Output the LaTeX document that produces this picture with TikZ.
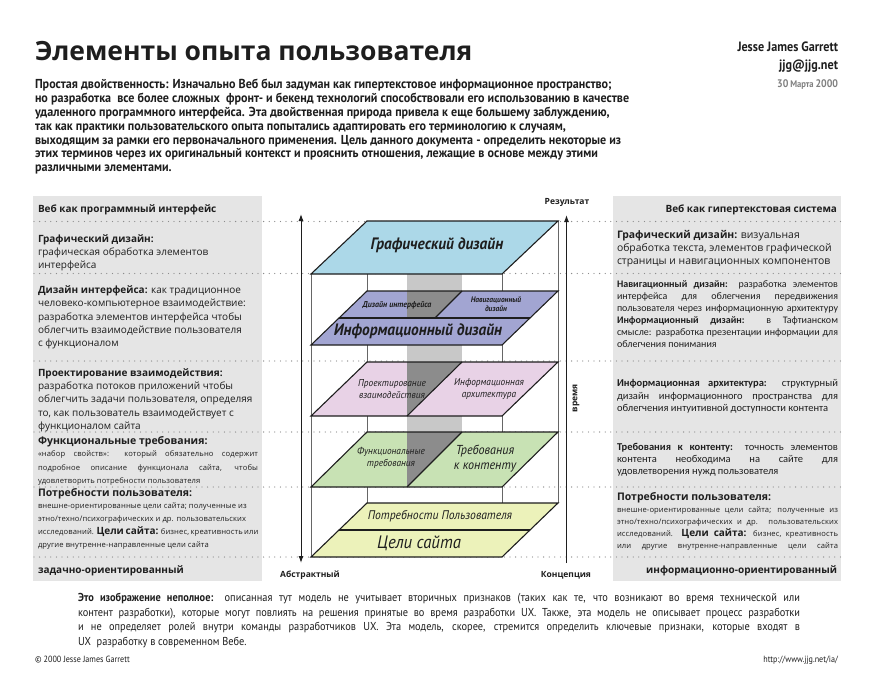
\documentclass[tikz,border=0pt]{standalone}
\usepackage{fontspec}
\setmainfont{Open Sans}
\newfontfamily\osls[LetterSpace=1.5]{Open Sans}
\newfontfamily\carl{Carlito}
\newfontfamily\cond[FakeStretch=0.9]{PT Sans}
\newfontfamily\condb[FakeStretch=0.93]{PT Sans}
\newfontfamily\lay[FakeStretch=0.93]{PT Sans}
\usetikzlibrary{arrows.meta}
\definecolor{panel}{RGB}{229,229,229}
\definecolor{dotc}{RGB}{140,140,140}
\definecolor{lblue}{RGB}{172,216,232}
\definecolor{lpurple}{RGB}{162,165,210}
\definecolor{lpink}{RGB}{232,210,230}
\definecolor{lgreen}{RGB}{200,226,180}
\definecolor{lyellow}{RGB}{236,242,186}
\definecolor{bandlight}{RGB}{200,200,200}
\definecolor{banddark}{RGB}{140,140,140}
\definecolor{ink}{RGB}{30,30,30}
\newcommand\fs[1]{\fontsize{#1}{#1}\selectfont}
\newcommand\LL[1]{\hbox to\hsize{#1\hfil}}
\newcommand\JJ[1]{\hbox to\hsize{#1}}
\newcommand\blk[4]{\vtop{\hsize=#1\relax #3\baselineskip=#2\relax\lineskiplimit=-100pt\lineskip=0pt\relax #4}}
\begin{document}
\begin{tikzpicture}[x=1pt,y=-1pt,
  txt/.style={anchor=base west,inner sep=0pt,outer sep=0pt,text=ink},
  rtxt/.style={anchor=base east,inner sep=0pt,outer sep=0pt,text=ink},
  dots/.style={dotc,line width=1.3pt,line cap=round,dash pattern=on 0pt off 5.6pt},
  boxline/.style={draw=gray!80!black,line width=0.6pt},
  layerline/.style={draw=ink,line width=1.1pt,line join=miter},
  arr/.style={draw=ink,line width=1pt},
  lbl/.style={inner sep=0pt,text=ink,align=center},
  axis/.style={inner sep=0pt,text=ink,font=\fs{8.5}\bfseries}]
\useasboundingbox (0,0) rectangle (880,679);
\fill[white] (0,0) rectangle (880,679);

% ---------- header ----------
\node[txt] (title) at (35,61) {\bfseries\fs{26.5}Элементы опыта пользователя};
\node[rtxt] (author) at (838,51.5) {\cond\bfseries\fs{13.5}Jesse James Garrett};
\node[rtxt] (mail) at (838,69.5) {\cond\bfseries\fs{13.5}jjg@jjg.net};
\node[rtxt,text=gray] (date) at (838,88) {\cond\bfseries\fs{11}30\,{\fs{9.5}Марта}\,2000};
\node[txt] (intro) at (35,89) {\blk{620pt}{13.8pt}{\condb\bfseries\fs{13}}{%
\LL{Простая двойственность: Изначально Веб был задуман как гипертекстовое информационное пространство;}%
\LL{но разработка \ все более сложных \ фронт- и бекенд технологий способствовали его использованию в качестве}%
\LL{удаленного программного интерфейса. Эта двойственная природа привела к еще большему заблуждению,}%
\LL{так как практики пользовательского опыта попытались адаптировать его терминологию к случаям,}%
\LL{выходящим за рамки его первоначального применения. Цель данного документа - определить некоторые из}%
\LL{этих терминов через их оригинальный контекст и прояснить отношения, лежащие в основе между этими}%
\LL{различными элементами.}}};

% ---------- side panels ----------
\fill[panel] (33,196) rectangle (262,581);
\fill[panel] (613,196) rectangle (841,581);

% ---------- dotted guide lines ----------
\foreach \yy in {221.5,273.5,361,432,487,557}{\draw[dots] (34,\yy) -- (841,\yy);}

% ---------- left panel text ----------
\node[txt] (lhead) at (38,212) {\fs{10}\bfseries Веб как программный интерфейс};
\node[txt] (lgd) at (38,242) {\blk{220pt}{13pt}{\fs{10}}{\LL{\bfseries Графический дизайн:}\LL{графическая обработка элементов}\LL{интерфейса}}};
\node[txt] (lid) at (38,293.5) {\blk{220pt}{13.3pt}{\fs{10}}{\LL{\textbf{Дизайн интерфейса:} как традиционное}\LL{человеко-компьютерное взаимодействие:}\LL{разработка элементов интерфейса чтобы}\LL{облегчить взаимодействие пользователя}\LL{с функционалом}}};
\node[txt] (lixd) at (38,376) {\blk{220pt}{13.4pt}{\fs{10}}{\LL{\bfseries Проектирование взаимодействия:}\LL{разработка потоков приложений чтобы}\LL{облегчить задачи пользователя, определяя}\LL{то, как пользователь взаимодействует с}\LL{функционалом сайта}}};
\node[txt] (lfs) at (38,444) {\fs{10.5}\bfseries Функциональные требования:};
\node[txt] (lfsb) at (38,456.5) {\blk{220pt}{13.5pt}{\osls\fs{7.6}}{\JJ{«набор свойств»: который обязательно содержит}\JJ{подробное описание функционала сайта, чтобы}\LL{удовлетворить потребности пользователя}}};
\node[txt] (lun) at (38,496) {\fs{10.5}\bfseries Потребности пользователя:};
\node[txt] (lunb) at (38,508.5) {\blk{220pt}{13pt}{\osls\fs{7.6}}{\LL{внешне-ориентированные цели сайта; полученные из}\LL{этно/техно/психографических и др. пользовательских}\LL{исследований. {\rmfamily\fs{10}\bfseries Цели сайта:} бизнес, креативность или}\LL{другие внутренне-направленные цели сайта}}};
\node[txt] (lfoot) at (38,573.5) {\fs{10}\bfseries задачно-ориентированный};

% ---------- right panel text ----------
\node[rtxt] (rhead) at (837,212) {\fs{10}\bfseries Веб как гипертекстовая система};
\node[txt] (rgd) at (617,238.5) {\blk{221pt}{12.8pt}{\fs{10.4}}{\LL{\textbf{Графический дизайн:} визуальная}\LL{обработка текста, элементов графической}\LL{страницы и навигационных компонентов}}};
\node[txt] (rnd) at (617,287.5) {\blk{221pt}{12pt}{\carl\fs{10}}{\JJ{\textbf{Навигационный дизайн:} разработка элементов}\JJ{интерфейса для облегчения передвижения}\JJ{пользователя через информационную архитектуру}\JJ{\textbf{Информационный дизайн:} в Тафтианском}\JJ{смысле: разработка презентации информации для}\LL{облегчения понимания}}};
\node[txt] (ria) at (617,386.5) {\blk{221pt}{12.5pt}{\carl\fs{10.5}}{\JJ{\textbf{Информационная архитектура:} структурный}\JJ{дизайн информационного пространства для}\LL{облегчения интуитивной доступности контента}}};
\node[txt] (rcr) at (617,450) {\blk{221pt}{12.2pt}{\carl\fs{10.5}}{\JJ{\textbf{Требования к контенту:} точность элементов}\JJ{контента необходима на сайте для}\LL{удовлетворения нужд пользователя}}};
\node[txt] (run) at (617,500) {\fs{10.5}\bfseries Потребности пользователя:};
\node[txt] (runb) at (617,512) {\blk{221pt}{12.3pt}{\osls\fs{7.6}}{\JJ{внешне-ориентированные цели сайта; полученные из}\JJ{этно/техно/психографических и др. пользовательских}\JJ{исследований. {\rmfamily\fs{10}\bfseries Цели сайта:} бизнес, креативность}\JJ{или другие внутренне-направленные цели сайта}}};
\node[rtxt] (rfoot) at (837,573) {\fs{10}\bfseries информационно-ориентированный};

% ---------- central model ----------
\fill[bandlight] (407,274) rectangle (462,432);
\draw[boxline] (311,274) -- (311,557);
\draw[boxline] (502,274) -- (502,557);
\draw[boxline] (367,221) -- (367,503);
\draw[boxline] (558,221) -- (558,503);

\coordinate (laTop) at (301,214);
\coordinate (laBot) at (301,563);
\coordinate (raTop) at (566.5,215);
\coordinate (raBot) at (566.5,563);
\draw[arr,{Latex[length=7pt,width=5pt]}-{Latex[length=7pt,width=5pt]}] (laTop) -- (laBot);
\draw[arr,-{Latex[length=7pt,width=5pt]}] (raBot) -- (raTop);

% layer 1
\fill[lblue] (311,274) -- (502,274) -- (558,221) -- (367,221) -- cycle;
\draw[layerline] (311,274) -- (502,274) -- (558,221) -- (367,221) -- cycle;
% layer 2
\fill[lpurple] (311,345) -- (502,345) -- (558,291) -- (367,291) -- cycle;
\fill[banddark] (407,291) -- (462,291) -- (435,318) -- (407,318) -- cycle;
\draw[layerline] (339,318) -- (530,318);
\draw[layerline] (462,291) -- (435,318);
\draw[layerline] (311,345) -- (502,345) -- (558,291) -- (367,291) -- cycle;
% layer 3
\fill[lpink] (311,416) -- (502,416) -- (558,362) -- (367,362) -- cycle;
\fill[banddark] (407,362) -- (462,362) -- (407,416) -- cycle;
\draw[layerline] (462,362) -- (407,416);
\draw[layerline] (311,416) -- (502,416) -- (558,362) -- (367,362) -- cycle;
% layer 4
\fill[lgreen] (311,487) -- (502,487) -- (558,432) -- (367,432) -- cycle;
\fill[banddark] (407,432) -- (462,432) -- (407,487) -- cycle;
\draw[layerline] (462,432) -- (407,487);
\draw[layerline] (311,487) -- (502,487) -- (558,432) -- (367,432) -- cycle;
% layer 5
\fill[lyellow] (311,557) -- (502,557) -- (558,503) -- (367,503) -- cycle;
\draw[layerline] (339,530) -- (530,530);
\draw[layerline] (311,557) -- (502,557) -- (558,503) -- (367,503) -- cycle;

% layer labels
\node[lbl,font=\lay\itshape\bfseries\fs{16.5}] (gdL) at (437,245) {Графический дизайн};
\node[lbl,font=\lay\itshape\bfseries\fs{8.5}] (idL) at (397,305.5) {Дизайн интерфейса};
\node[lbl,font=\lay\itshape\bfseries\fs{8}] (ndL) at (496,304) {Навигационный\\[1pt]дизайн};
\node[lbl,font=\lay\itshape\bfseries\fs{16.5}] (infL) at (418,331) {Информационный дизайн};
\node[lbl,font=\lay\itshape\fs{10}] (ixL) at (392,389.5) {Проектирование\\[2pt]взаимодействия};
\node[lbl,font=\lay\itshape\fs{10}] (iaL) at (489,389.5) {Информационная\\[2pt]архитектура};
\node[lbl,font=\lay\itshape\fs{10}] (fsL) at (391,457.5) {Функциональные\\[2pt]требования};
\node[lbl,font=\lay\itshape\fs{13}] (crL) at (485,459) {Требования\\[2pt]к контенту};
\node[lbl,font=\lay\itshape\fs{12.5}] (unL) at (440,516) {Потребности Пользователя};
\node[lbl,font=\lay\itshape\fs{18}] (soL) at (419,543) {Цели сайта};

% axis labels
\node[axis] (res) at (567,202.5) {Результат};
\node[axis] (abs) at (310,575) {Абстрактный};
\node[axis] (con) at (566,575) {Концепция};
\node[axis,rotate=90] (time) at (576,398) {время};

% ---------- bottom note ----------
\node[txt] (note) at (78,601.5) {\blk{722pt}{14.5pt}{\cond\fs{11.5}}{%
\JJ{\textbf{Это изображение неполное:} описанная тут модель не учитывает вторичных признаков (таких как те, что возникают во время технической или}%
\JJ{контент разработки), которые могут повлиять на решения принятые во время разработки UX. Также, эта модель не описывает процесс разработки}%
\JJ{и не определяет ролей внутри команды разработчиков UX. Эта модель, скорее, стремится определить ключевые признаки, которые входят в}%
\LL{UX \ разработку в современном Вебе.}}};
\node[txt] (copy) at (35,662) {\cond\fs{9}© 2000 Jesse James Garrett};
\node[rtxt] (url) at (838,662) {\cond\fs{9}http://www.jjg.net/ia/};
\end{tikzpicture}
\end{document}
